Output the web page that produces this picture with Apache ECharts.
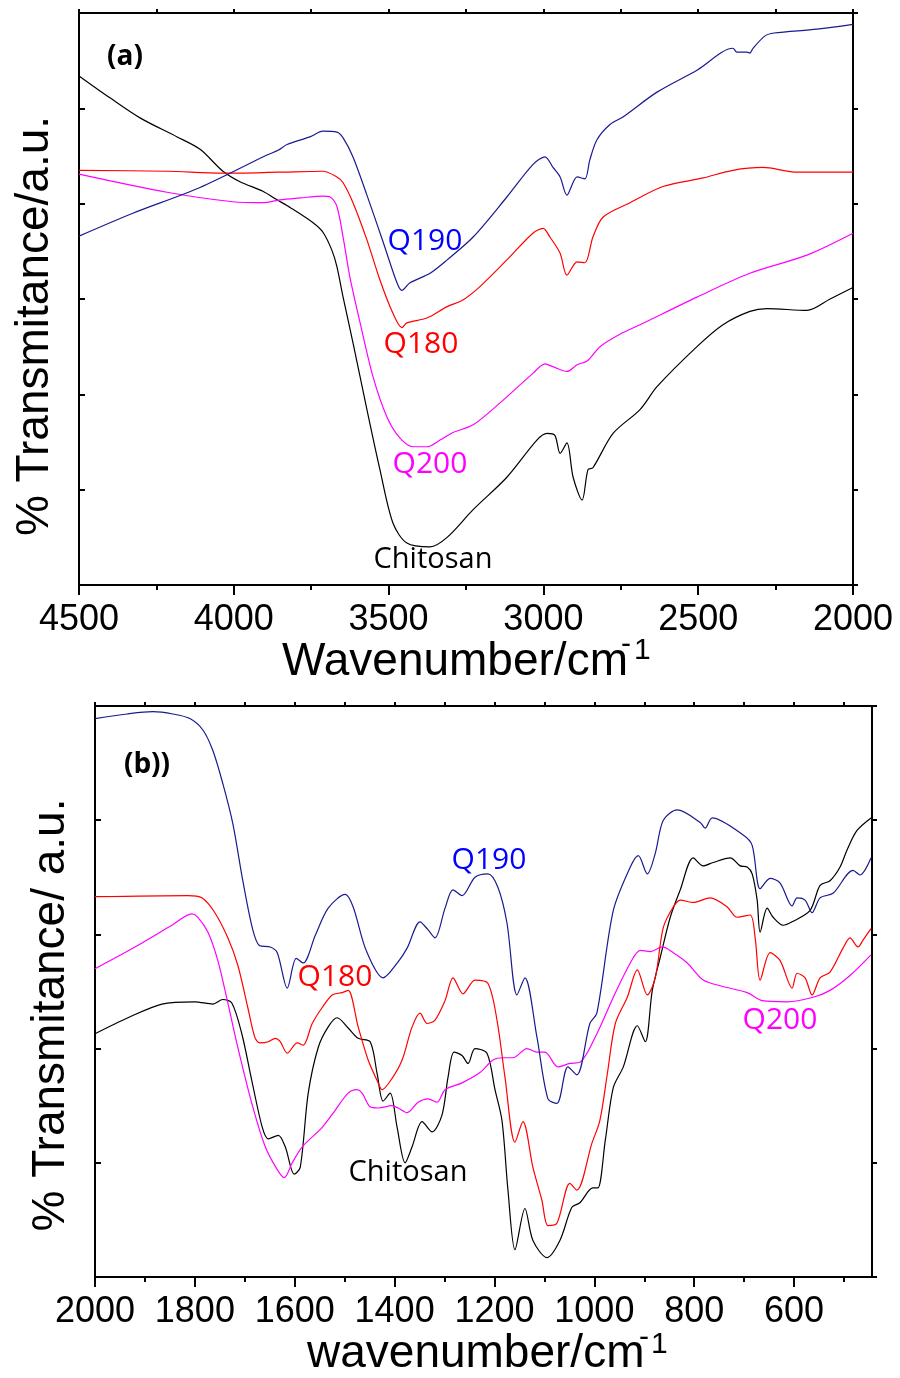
<!DOCTYPE html>
<html>
<head>
<meta charset="utf-8">
<title>FTIR spectra</title>
<script src="https://cdn.jsdelivr.net/npm/echarts@6.0.0/dist/echarts.min.js"></script>
<style>
  html, body { margin: 0; padding: 0; background: #fff; }
  #main { width: 900px; height: 1378px; }
</style>
</head>
<body>
<div id="main"></div>
<script>
// ---- panel (a): 4500-2000 cm-1, transmittance in a.u. (0-60) ----
const aChitosanWn = [4500,4400,4303,4183,4109,4035,3980,3906,3860,3818,3744,3712,3683,3667,3647,3615,3570,3528,3486,3441,3366,3311,3227,3118,3021,2988,2963,2946,2924,2904,2875,2856,2840,2775,2688,2633,2504,2420,2333,2278,2149,2074,2000];
const aChitosanT  = [53.4,51.1,49.0,47.0,45.7,43.4,42.3,41.3,40.4,39.6,38.0,37.0,35.1,33.4,30.2,25.4,18.4,12.1,6.5,4.4,4.0,5.0,7.9,11.3,15.2,15.9,15.7,13.8,14.9,11.3,8.9,12.1,12.3,15.9,18.4,20.8,25.0,27.3,28.7,29.0,28.8,30.0,31.2];

const aQ190Wn = [4500,4326,4109,3893,3857,3828,3754,3712,3667,3647,3615,3570,3518,3473,3457,3431,3366,3311,3227,3118,3034,2995,2969,2946,2924,2891,2866,2850,2827,2785,2743,2633,2504,2388,2375,2342,2333,2323,2284,2255,2116,2000];
const aQ190T  = [36.6,39.0,41.7,45.1,45.6,46.2,47.0,47.6,47.5,46.9,44.9,40.9,36.0,31.7,30.9,31.7,32.7,34.1,36.5,40.7,44.1,44.9,43.8,42.8,40.9,42.8,42.6,44.6,46.7,48.3,49.1,51.7,54.0,56.3,55.9,55.9,55.8,56.3,57.6,57.9,58.3,58.8];

const aQ180Wn = [4500,4216,4035,3857,3712,3667,3647,3615,3570,3528,3486,3457,3441,3376,3311,3260,3205,3118,3034,3001,2979,2946,2924,2891,2866,2840,2807,2720,2614,2484,2388,2291,2181,2000];
const aQ180T  = [43.5,43.4,43.2,43.3,43.4,42.8,42.2,40.1,36.2,32.0,28.5,27.0,27.5,28.0,29.2,29.9,31.3,34.1,36.9,37.4,36.5,34.8,32.5,33.9,33.8,36.5,38.6,40.1,41.8,42.7,43.5,43.8,43.3,43.3];

const aQ200Wn = [4500,4216,4003,3906,3851,3786,3712,3689,3667,3647,3625,3592,3550,3505,3463,3421,3376,3334,3292,3227,3140,3034,2995,2969,2924,2891,2859,2817,2753,2688,2504,2333,2149,2000];
const aQ200T  = [43.1,41.2,40.2,40.1,40.4,40.6,40.8,40.7,39.7,36.5,32.3,27.5,21.8,17.6,15.4,14.5,14.5,15.2,16.0,16.8,19.1,22.2,23.2,22.9,22.4,23.1,23.5,25.0,26.3,27.3,30.2,32.7,34.6,36.9];

// ---- panel (b): 2000-444 cm-1, transmittance in a.u. (0-50) ----
const bChitosanWn = [2000,1934,1866,1800,1764,1744,1726,1706,1686,1665,1653,1633,1619,1601,1589,1573,1553,1533,1515,1493,1473,1449,1435,1423,1409,1395,1379,1365,1345,1325,1305,1293,1281,1265,1253,1239,1215,1199,1185,1173,1159,1139,1123,1095,1069,1045,1029,1003,993,978,962,942,914,898,884,868,848,828,802,782,762,728,708,694,684,674,668,654,642,622,604,568,548,528,508,494,474,446];
const bChitosanT  = [21.3,22.7,23.9,24.1,23.9,24.3,24.0,21.3,17.2,13.1,12.1,12.4,11.4,9.0,9.6,16.1,20.1,21.9,22.7,21.8,20.9,20.6,17.8,15.4,16.1,13.1,10.0,11.4,13.6,12.7,14.2,17.5,19.7,19.4,18.7,20.0,19.6,16.4,13.7,7.6,2.4,6.0,3.2,1.7,3.2,6.1,6.5,7.8,7.8,12.0,16.6,18.4,22.0,20.6,25.1,28.0,31.5,33.9,36.7,36.0,36.3,36.7,36.0,35.9,35.3,33.0,30.2,32.3,31.5,30.8,31.1,32.1,34.3,34.7,35.9,37.4,39.1,40.2];

const bQ190Wn = [2000,1936,1884,1844,1810,1784,1764,1744,1724,1704,1684,1670,1649,1635,1615,1597,1583,1559,1533,1499,1483,1457,1423,1393,1375,1349,1333,1319,1299,1283,1265,1239,1213,1193,1175,1155,1139,1115,1093,1075,1053,1035,1009,995,962,928,912,894,878,862,834,788,778,764,702,684,668,648,628,604,594,578,564,548,522,482,468,446];
const bQ190T  = [48.9,49.3,49.5,49.3,48.9,47.9,46.1,43.2,39.7,34.7,30.4,29.0,28.9,28.4,25.3,27.9,27.5,29.9,32.3,33.5,32.4,28.6,26.2,27.6,28.8,31.1,30.4,29.7,32.3,33.9,33.4,35.0,35.3,34.1,31.0,24.7,26.2,21.0,15.6,15.2,18.4,17.7,22.2,23.1,32.1,35.9,36.9,35.3,37.1,40.0,40.9,39.8,39.3,40.2,38.7,37.8,34.0,34.9,34.5,32.5,33.2,33.0,31.9,33.2,33.6,35.6,35.2,36.7];

const bQ180Wn = [2000,1814,1786,1760,1734,1714,1694,1680,1670,1653,1639,1629,1615,1595,1583,1565,1545,1525,1505,1493,1473,1453,1435,1425,1405,1385,1365,1349,1335,1319,1299,1283,1263,1239,1213,1195,1179,1159,1143,1123,1105,1093,1075,1049,1035,1005,989,974,958,934,914,894,878,862,842,828,802,768,734,714,688,678,668,648,628,604,594,578,564,548,528,502,488,472,462,446];
const bQ180T  = [33.3,33.4,33.2,31.9,29.7,27.3,23.6,21.0,20.5,20.6,20.9,20.6,19.6,20.5,20.3,22.2,23.6,24.7,24.9,25.1,21.9,19.0,17.2,16.4,17.4,19.0,21.9,23.1,22.2,22.5,24.2,26.2,24.8,26.0,25.7,22.5,17.5,11.8,13.6,9.6,6.7,4.5,4.7,8.2,7.6,11.7,13.7,17.8,22.2,24.5,26.9,24.7,26.2,30.6,32.4,33.0,32.8,33.2,32.4,31.5,31.7,29.7,26.0,28.4,27.7,25.3,26.6,26.2,24.7,26.2,26.7,28.8,29.7,28.9,29.5,30.5];

const bQ200Wn = [2000,1920,1846,1806,1794,1774,1754,1734,1714,1686,1659,1635,1621,1605,1585,1545,1519,1493,1475,1465,1449,1433,1405,1393,1375,1353,1333,1315,1299,1265,1229,1203,1183,1163,1135,1115,1099,1073,1049,1029,995,962,928,908,888,864,842,814,782,748,694,664,614,562,528,488,446];
const bQ200T  = [27.0,28.9,30.8,31.8,31.5,30.2,27.7,24.0,20.1,15.2,11.4,9.4,8.7,10.0,11.4,13.1,14.6,16.1,16.4,16.1,14.9,14.8,15.0,14.8,14.4,15.3,15.6,15.3,16.4,17.0,17.9,19.0,19.2,19.2,20.0,19.7,19.7,18.4,18.7,18.8,21.3,24.5,27.5,28.6,28.5,28.9,28.4,27.5,26.0,25.5,24.9,24.2,24.1,24.5,25.1,26.4,28.2];

// tick values for panel (b), its range starts at 444 so ticks are listed
const bLabelTicks = [600, 800, 1000, 1200, 1400, 1600, 1800, 2000];
const bMinorTicks = [500, 700, 900, 1100, 1300, 1500, 1700, 1900];
const bTopTicks = [500, 600, 700, 800, 900, 1000, 1100, 1200, 1300, 1400, 1500, 1600, 1700, 1800, 1900, 2000];

function pairs(wn, t) {
  return wn.map((w, i) => [w, t[i]]);
}

const black = '#000';
const frame = { show: true, onZero: false, lineStyle: { color: black, width: 2 } };
const tickStyle = { color: black, width: 2 };
const tickLabel = {
  fontSize: 36, fontFamily: 'Liberation Sans', color: black, margin: 17,
  showMinLabel: true, showMaxLabel: true,
  formatter: function (v) { return String(v); }   // no thousands separator
};

function spectrum(data, color, xi, yi) {
  return {
    type: 'line', data: data, xAxisIndex: xi, yAxisIndex: yi,
    showSymbol: false, smooth: 0.3, silent: true,
    lineStyle: { color: color, width: 1.2 }
  };
}

function label(x, y, text, size, color, extra) {
  return {
    type: 'text', x: x, y: y, silent: true,
    style: Object.assign({
      text: text, fontSize: size, fontFamily: 'Open Sans', fill: color,
      textAlign: 'center', align: 'center', textVerticalAlign: 'middle', verticalAlign: 'middle'
    }, extra || {})
  };
}

const arial = { fontFamily: 'Liberation Sans' };
const arialLeft = { fontFamily: 'Liberation Sans', textAlign: 'left', align: 'left' };

var myChart = echarts.init(document.getElementById('main'));

myChart.setOption({
  animation: false,
  backgroundColor: '#fff',
  grid: [
    { left: 79, top: 13, width: 774, height: 572 },
    { left: 95, top: 706, width: 777, height: 571 }
  ],
  xAxis: [
    // (a) bottom
    { gridIndex: 0, type: 'value', inverse: true, min: 2000, max: 4500, interval: 500, position: 'bottom',
      axisLine: frame, axisTick: { length: 10, lineStyle: tickStyle },
      minorTick: { show: true, splitNumber: 2, length: 5, lineStyle: tickStyle },
      axisLabel: tickLabel, splitLine: { show: false }, minorSplitLine: { show: false } },
    // (a) top
    { gridIndex: 0, type: 'value', inverse: true, min: 2000, max: 4500, interval: 250, position: 'top',
      axisLine: frame, axisTick: { length: 4, lineStyle: tickStyle },
      axisLabel: { show: false }, splitLine: { show: false } },
    // (b) bottom, labelled
    { gridIndex: 1, type: 'value', inverse: true, min: 444, max: 2000, position: 'bottom',
      axisLine: frame, axisTick: { length: 10, customValues: bLabelTicks, lineStyle: tickStyle },
      axisLabel: Object.assign({ customValues: bLabelTicks }, tickLabel), splitLine: { show: false } },
    // (b) bottom, minor ticks
    { gridIndex: 1, type: 'value', inverse: true, min: 444, max: 2000, position: 'bottom',
      axisLine: { show: false }, axisTick: { length: 5, customValues: bMinorTicks, lineStyle: tickStyle },
      axisLabel: { show: false }, splitLine: { show: false } },
    // (b) top
    { gridIndex: 1, type: 'value', inverse: true, min: 444, max: 2000, position: 'top',
      axisLine: frame, axisTick: { length: 4, customValues: bTopTicks, lineStyle: tickStyle },
      axisLabel: { show: false }, splitLine: { show: false } }
  ],
  yAxis: [
    { gridIndex: 0, type: 'value', min: 0, max: 60, interval: 10, position: 'left',
      axisLine: frame, axisTick: { show: true, inside: true, length: 6, lineStyle: tickStyle },
      axisLabel: { show: false }, splitLine: { show: false } },
    { gridIndex: 0, type: 'value', min: 0, max: 60, interval: 10, position: 'right',
      axisLine: frame, axisTick: { show: true, length: 5, lineStyle: tickStyle },
      axisLabel: { show: false }, splitLine: { show: false } },
    { gridIndex: 1, type: 'value', min: 0, max: 50, interval: 10, position: 'left',
      axisLine: frame, axisTick: { show: true, inside: true, length: 6, lineStyle: tickStyle },
      axisLabel: { show: false }, splitLine: { show: false } },
    { gridIndex: 1, type: 'value', min: 0, max: 50, interval: 10, position: 'right',
      axisLine: frame, axisTick: { show: true, length: 5, lineStyle: tickStyle },
      axisLabel: { show: false }, splitLine: { show: false } }
  ],
  series: [
    spectrum(pairs(aChitosanWn, aChitosanT), '#000000', 0, 0),
    spectrum(pairs(aQ200Wn, aQ200T), '#ff00ff', 0, 0),
    spectrum(pairs(aQ180Wn, aQ180T), '#ff0000', 0, 0),
    spectrum(pairs(aQ190Wn, aQ190T), '#1a1a8f', 0, 0),
    spectrum(pairs(bChitosanWn, bChitosanT), '#000000', 2, 2),
    spectrum(pairs(bQ200Wn, bQ200T), '#ff00ff', 2, 2),
    spectrum(pairs(bQ180Wn, bQ180T), '#ff0000', 2, 2),
    spectrum(pairs(bQ190Wn, bQ190T), '#1a1a8f', 2, 2)
  ],
  graphic: [
    // panel tags
    label(125, 57, '(a)', 28, black, { fontWeight: 'bold' }),
    label(147, 765, '(b))', 28, black, { fontWeight: 'bold' }),
    // curve names, panel (a)
    label(425, 241, 'Q190', 30, '#0000ff'),
    label(421, 344, 'Q180', 30, '#ff0000'),
    label(430, 464, 'Q200', 30, '#ff00ff'),
    label(433, 560, 'Chitosan', 29, black),
    // curve names, panel (b)
    label(489, 860, 'Q190', 30, '#0000ff'),
    label(335, 977, 'Q180', 30, '#ff0000'),
    label(780, 1020, 'Q200', 30, '#ff00ff'),
    label(408, 1173, 'Chitosan', 29, black),
    // axis titles, the superscript minus and one placed separately
    label(282, 662, 'Wavenumber/cm', 46, black, arialLeft),
    label(626, 645, '-', 30, black, arial),
    label(634, 651, '1', 30, black, arialLeft),
    label(307, 1354, 'wavenumber/cm', 46, black, arialLeft),
    label(644, 1338, '-', 30, black, arial),
    label(651, 1345, '1', 30, black, arialLeft),
    Object.assign(label(35, 326, '% Transmitance/a.u.', 46, black, arial), { rotation: Math.PI / 2 }),
    Object.assign(label(51, 1015, '% Transmitance/ a.u.', 46, black, arial), { rotation: Math.PI / 2 })
  ]
});
</script>
</body>
</html>
